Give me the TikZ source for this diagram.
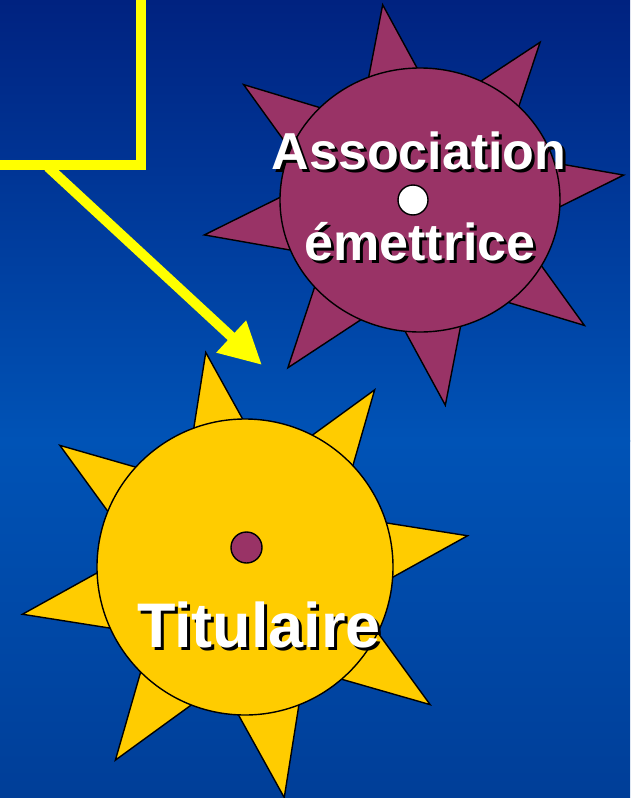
\documentclass[tikz,border=0pt]{standalone}
\usepackage{fontspec}
\setmainfont{Liberation Sans}
\usetikzlibrary{arrows.meta}
\definecolor{bgtop}{RGB}{0,34,128}
\definecolor{bgmid}{RGB}{0,83,182}
\definecolor{bgbot}{RGB}{0,62,152}
\definecolor{assocpurple}{RGB}{153,51,102}
\definecolor{sunyellow}{RGB}{255,204,0}
\definecolor{frameyellow}{RGB}{255,255,0}
% white text with a black drop shadow
\newcommand{\shadowtxt}[1]{\makebox[0pt][l]{\hspace{3pt}\raisebox{-3pt}{\color{black}#1}}{\color{white}#1}}
\begin{document}
\begin{tikzpicture}[x=1pt,y=-1pt,
  sunedge/.style={draw=black,line width=1.4pt,line join=miter},
  suntext/.style={inner sep=0pt,anchor=base,font=\bfseries\fontsize{#1}{#1}\selectfont},
  framebox/.style={draw=frameyellow,line width=10pt},
  linkarrow/.style={draw=frameyellow,line width=10pt,-{Triangle[length=42pt,width=41pt]}}]
  \useasboundingbox (0,0) rectangle (630,798);
  \clip (0,0) rectangle (630,798);
  % background
  \fill[top color=bgtop,bottom color=bgmid] (0,0) rectangle (630,441);
  \fill[top color=bgmid,bottom color=bgbot] (0,440) rectangle (630,798);
  % frame and arrow
  \draw[framebox] (-20,-20) rectangle (141,165);
  \coordinate (linkstart) at (48,167);
  \coordinate (linktip) at (262,365);
  \draw[linkarrow] (linkstart) -- (linktip);
  % association
  \begin{scope}[shift={(414,205)},yscale=0.955]
    \draw[sunedge,fill=assocpurple] (-8.5:212)
      \foreach \k in {0,...,7} { -- (14+45*\k:104) -- (36.5+45*\k:212) } -- cycle;
  \end{scope}
  \draw[sunedge,fill=assocpurple] (420,200) ellipse [x radius=140,y radius=132];
  \draw[sunedge,fill=white] (413,200) circle (15);
  \node[suntext=52] (assoc1) at (419,169) {\shadowtxt{Association}};
  \node[suntext=52] (assoc2) at (420,260) {\shadowtxt{émettrice}};
  % titulaire
  \begin{scope}[shift={(245,575)}]
    \draw[sunedge,fill=sunyellow] (-10:226)
      \foreach \k in {0,...,7} { -- (12.5+45*\k:111) -- (35+45*\k:226) } -- cycle;
  \end{scope}
  \draw[sunedge,fill=sunyellow] (245,567) circle (148);
  \draw[sunedge,fill=assocpurple] (246.5,547.5) circle (15.5);
  \node[suntext=63] (holder) at (259,647) {\shadowtxt{Titulaire}};
\end{tikzpicture}
\end{document}
